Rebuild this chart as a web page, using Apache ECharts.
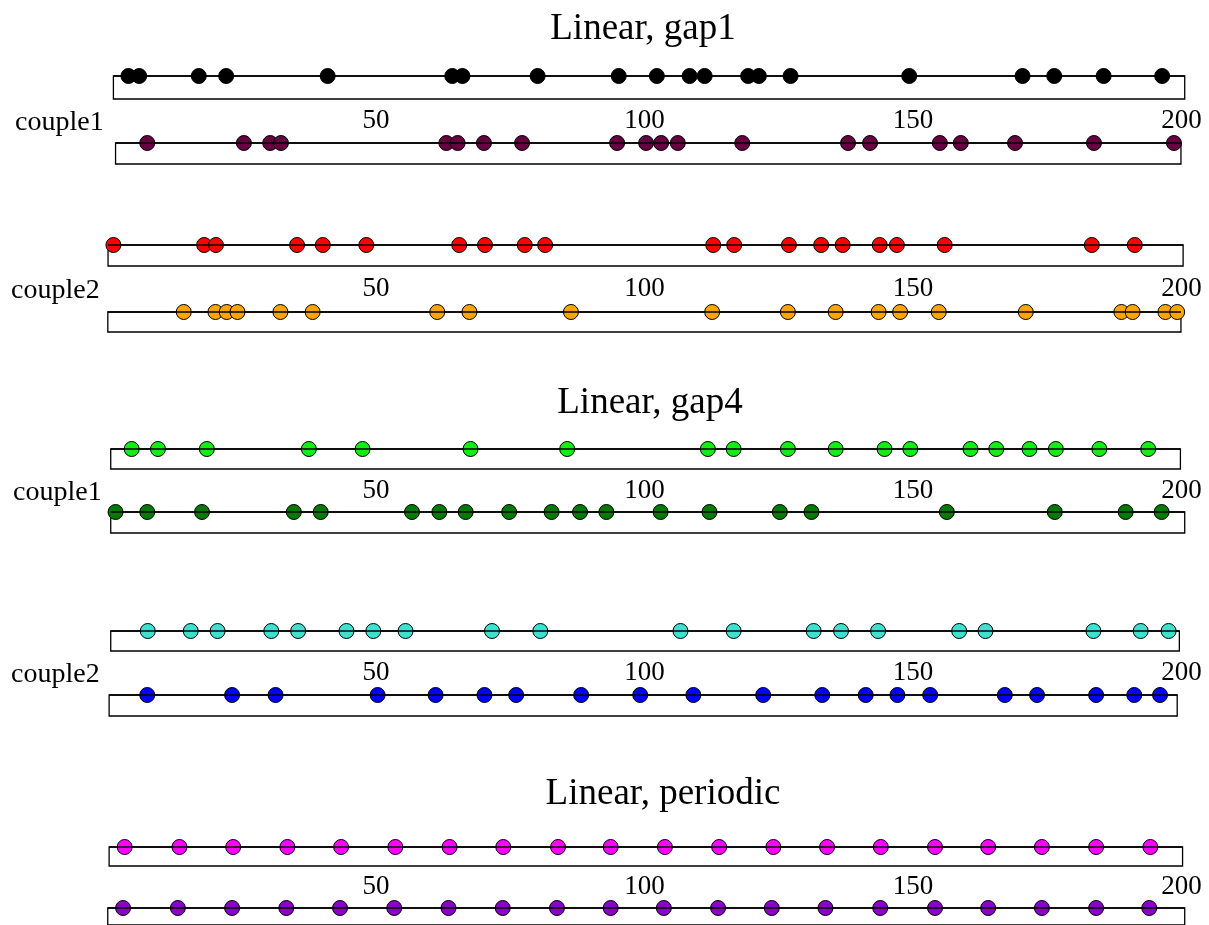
<!DOCTYPE html>
<html><head><meta charset="utf-8">
<script src="https://cdn.jsdelivr.net/npm/echarts@6/dist/echarts.min.js"></script>
<style>html,body{margin:0;padding:0;background:#fff}#c{width:1209px;height:925px}</style>
</head><body><div id="c"></div><script>
// ---- data ----
const titles = ['Linear, gap1', 'Linear, gap4', 'Linear, periodic'];
const coupleLabels = ['couple1', 'couple2', 'couple1', 'couple2'];
const tickValues = [0, 50, 100, 150, 200];

const gap1Couple1A = [3.9, 5.9, 17.0, 22.1, 41.0, 64.2, 66.1, 80.1, 95.2, 102.3, 108.4, 111.2, 119.3, 121.3, 127.2, 149.3, 170.4, 176.3, 185.5, 196.4];
const gap1Couple1B = [7.4, 25.4, 30.3, 32.3, 63.1, 65.2, 70.1, 77.2, 94.9, 100.3, 103.1, 106.2, 118.2, 137.9, 142.0, 155.0, 158.9, 169.0, 183.7, 198.6];
const gap1Couple2A = [1.1, 18.0, 20.2, 35.3, 40.1, 48.2, 65.5, 70.3, 77.7, 81.5, 112.8, 116.7, 126.9, 132.9, 136.9, 143.8, 147.0, 155.9, 183.3, 191.3];
const gap1Couple2B = [14.2, 20.1, 22.2, 24.2, 32.2, 38.2, 61.4, 67.4, 86.3, 112.6, 126.7, 135.6, 143.6, 147.6, 154.8, 171.0, 188.8, 190.9, 197.0, 199.2];
const gap4Couple1A = [4.5, 9.4, 18.5, 37.5, 47.5, 67.6, 85.6, 111.8, 116.6, 126.7, 135.6, 144.7, 149.5, 160.7, 165.5, 171.7, 176.6, 184.7, 193.8];
const gap4Couple1B = [1.5, 7.4, 17.6, 34.7, 39.7, 56.7, 61.8, 66.7, 74.8, 82.7, 88.0, 92.9, 103.0, 112.1, 125.2, 131.1, 156.3, 176.4, 189.6, 196.3];
const gap4Couple2A = [7.5, 15.5, 20.5, 30.5, 35.5, 44.5, 49.5, 55.5, 71.6, 80.6, 106.7, 116.6, 131.5, 136.6, 143.5, 158.6, 163.5, 183.6, 192.4, 197.6];
const gap4Couple2B = [7.4, 23.2, 31.3, 50.3, 61.1, 70.2, 76.1, 88.2, 99.2, 109.1, 122.1, 133.1, 141.2, 147.1, 153.2, 167.1, 173.1, 184.1, 191.2, 196.0];
const periodicA = [3.2, 13.4, 23.4, 33.5, 43.5, 53.6, 63.7, 73.7, 83.9, 93.7, 103.8, 113.9, 124.0, 134.0, 144.0, 154.1, 164.0, 174.0, 184.1, 194.2];
const periodicB = [2.9, 13.1, 23.2, 33.3, 43.3, 53.4, 63.5, 73.6, 83.7, 93.7, 103.6, 113.7, 123.7, 133.7, 143.9, 154.1, 164.0, 174.0, 184.1, 194.0];

// track extents (data units)
const trackStart = [1.1, 1.5, 0.1, 0.06, 0.6, 0.6, 0.6, 0.3, 0.3, 0.05];
const trackEnd   = [200.6, 199.9, 200.3, 199.9, 199.8, 200.6, 199.6, 199.2, 200.2, 200.6];

// ---- layout / style ----
const X0 = 107.5, PX_PER_UNIT = 5.37;
const trackValues = [gap1Couple1A, gap1Couple1B, gap1Couple2A, gap1Couple2B, gap4Couple1A, gap4Couple1B, gap4Couple2A, gap4Couple2B, periodicA, periodicB];
const trackColors = ['#000000', '#660040', '#ff0000', '#ffa500', '#11ee11', '#007a00', '#40e0d0', '#0000ff', '#ff00ff', '#8a00c8'];
const trackTop = [76, 143, 245, 312, 449, 512, 631, 695, 847, 908];
const trackHeight = [23, 21, 21, 20, 20, 21, 20, 21, 19, 24];
const rowCenter = [121, 289, 490.5, 673, 887];
const coupleX = [15, 11, 13, 11];
const titleX = [643, 650, 663];
const titleY = [29.5, 403, 794.5];
const FONT = "'Liberation Serif', 'Times New Roman', serif";

const grid = [], xAxis = [], yAxis = [], series = [];
trackValues.forEach((vals, i) => {
  const left = X0 + trackStart[i] * PX_PER_UNIT;
  const width = (trackEnd[i] - trackStart[i]) * PX_PER_UNIT;
  grid.push({ left: left, top: trackTop[i], width: width, height: trackHeight[i],
    show: true, borderColor: '#000', borderWidth: 1.3, backgroundColor: 'transparent' });
  xAxis.push({ gridIndex: i, type: 'value', min: trackStart[i], max: trackEnd[i], show: false });
  yAxis.push({ gridIndex: i, type: 'value', min: 0, max: 1, show: false });
  series.push({ type: 'scatter', xAxisIndex: i, yAxisIndex: i, z: 3,
    data: vals.map(v => [v, 1]), symbol: 'circle', symbolSize: 15, clip: false,
    itemStyle: { color: trackColors[i], borderColor: '#000', borderWidth: 1, opacity: 1 },
    emphasis: { disabled: true }, silent: true });
  series.push({ type: 'line', xAxisIndex: i, yAxisIndex: i, z: 5,
    data: [[trackStart[i], 1], [trackEnd[i], 1]], symbol: 'none', clip: false,
    lineStyle: { color: '#000', width: 1.5 }, silent: true });
});
// tick label axes (one per pair)
rowCenter.forEach((c, k) => {
  const gi = grid.length;
  grid.push({ left: X0, top: c - 10, width: 200 * PX_PER_UNIT, height: 10, show: false });
  xAxis.push({ gridIndex: gi, type: 'value', min: tickValues[0], max: tickValues[tickValues.length - 1],
    interval: tickValues[1] - tickValues[0], position: 'bottom',
    axisLine: { show: false }, axisTick: { show: false }, splitLine: { show: false },
    axisLabel: { show: true, margin: 0, verticalAlign: 'middle', showMinLabel: false, showMaxLabel: true,
      color: '#000', fontSize: 27, fontFamily: FONT } });
  yAxis.push({ gridIndex: gi, type: 'value', show: false });
});

const graphic = [];
titles.forEach((t, k) => graphic.push({ type: 'text', x: titleX[k], y: titleY[k], silent: true,
  style: { text: t, fill: '#000', font: '37px ' + FONT, textAlign: 'center', textVerticalAlign: 'middle' } }));
coupleLabels.forEach((t, k) => graphic.push({ type: 'text', x: coupleX[k], y: rowCenter[k] + 2, silent: true,
  style: { text: t, fill: '#000', font: '28px ' + FONT, textAlign: 'left', textVerticalAlign: 'middle' } }));

const chart = echarts.init(document.getElementById('c'), null, { renderer: 'canvas' });
chart.setOption({ animation: false, backgroundColor: '#fff', grid, xAxis, yAxis, series, graphic });
</script></body></html>
